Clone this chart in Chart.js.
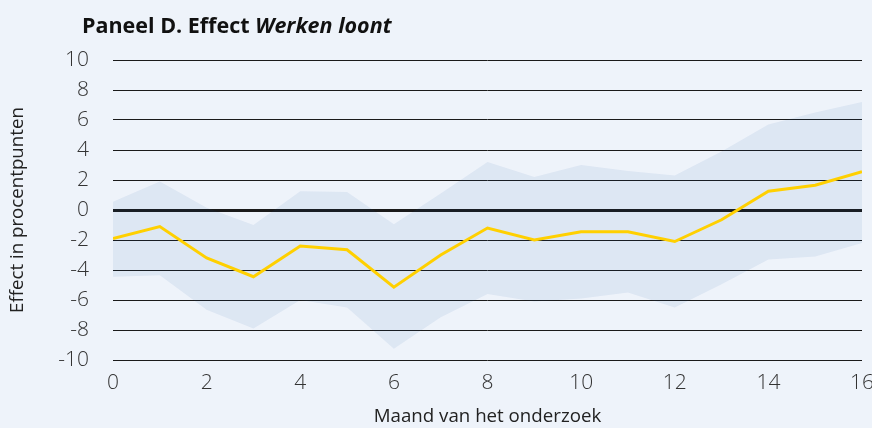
<!DOCTYPE html>
<html>
<head>
<meta charset="utf-8">
<script src="https://cdn.jsdelivr.net/npm/chart.js@4.4.1/dist/chart.umd.min.js"></script>
<style>
  html, body { margin: 0; padding: 0; background: #eef3fa; }
  #wrap { width: 872px; height: 428px; position: relative; }
</style>
</head>
<body>
<div id="wrap"><canvas id="c" width="872" height="428"></canvas></div>
<script>
const months = [0, 1, 2, 3, 4, 5, 6, 7, 8, 9, 10, 11, 12, 13, 14, 15, 16];
const effect = [-1.9, -1.1, -3.2, -4.45, -2.4, -2.65, -5.15, -3.0, -1.2, -2.0, -1.45, -1.45, -2.1, -0.65, 1.25, 1.65, 2.55];
const upper = [0.55, 1.9, 0.15, -1.0, 1.25, 1.2, -0.95, 1.1, 3.2, 2.2, 3.0, 2.6, 2.3, 3.9, 5.7, 6.5, 7.2];
const lower = [-4.45, -4.35, -6.65, -7.9, -6.0, -6.5, -9.25, -7.15, -5.6, -6.1, -5.9, -5.5, -6.5, -4.95, -3.3, -3.1, -2.2];
const titleMain = 'Paneel D. Effect ';
const titleItalic = 'Werken loont';
const xTitle = 'Maand van het onderzoek';
const yTitle = 'Effect in procentpunten';

const toPts = arr => months.map((m, i) => ({ x: m, y: arr[i] }));

const bgPlugin = {
  id: 'bg',
  beforeDraw(chart) {
    const ctx = chart.ctx;
    ctx.save();
    ctx.fillStyle = '#eef3fa';
    ctx.fillRect(0, 0, chart.width, chart.height);
    ctx.restore();
  }
};
const titlePlugin = {
  id: 'mixedTitle',
  afterDraw(chart) {
    const ctx = chart.ctx;
    ctx.save();
    ctx.fillStyle = '#111';
    ctx.textBaseline = 'alphabetic';
    ctx.font = 'bold 21.5px "Open Sans"';
    const x0 = 82, y0 = 33;
    ctx.fillText(titleMain, x0, y0);
    const w = ctx.measureText(titleMain).width;
    ctx.font = 'italic bold 21.5px "Open Sans"';
    ctx.fillText(titleItalic, x0 + w, y0);
    ctx.restore();
  }
};

new Chart(document.getElementById('c'), {
  type: 'line',
  data: {
    datasets: [
      {
        label: 'upper',
        data: toPts(upper),
        borderWidth: 0,
        pointRadius: 0,
        backgroundColor: 'rgba(25,93,162,0.08)',
        fill: '+1',
        tension: 0,
        order: 2
      },
      {
        label: 'lower',
        data: toPts(lower),
        borderWidth: 0,
        pointRadius: 0,
        fill: false,
        tension: 0,
        order: 2
      },
      {
        label: 'effect',
        data: toPts(effect),
        borderColor: '#ffd000',
        borderWidth: 3,
        pointRadius: 0,
        fill: false,
        tension: 0,
        order: 1
      }
    ]
  },
  options: {
    responsive: false,
    animation: false,
    layout: { padding: { top: 60, right: 10, left: 0, bottom: 0 } },
    plugins: { legend: { display: false }, tooltip: { enabled: false }, title: { display: false } },
    scales: {
      x: {
        type: 'linear',
        min: 0, max: 16,
        grid: { display: false, drawTicks: false },
        border: { display: false },
        ticks: {
          stepSize: 2,
          padding: 10,
          color: '#333',
          font: { family: '"Open Sans"', size: 21, weight: 300 }
        },
        title: {
          display: true,
          text: xTitle,
          color: '#222',
          font: { family: '"Open Sans"', size: 18.7 },
          padding: { top: 0, bottom: 0 }
        },
        afterFit(s) { s.height = 68; s.paddingLeft = 0; s.paddingRight = 0; }
      },
      y: {
        min: -10, max: 10,
        grid: {
          drawTicks: false,
          color: '#1a1a1a',
          lineWidth: c => (c.tick && c.tick.value === 0 ? 3 : 1)
        },
        border: { display: false },
        ticks: {
          stepSize: 2,
          padding: 24,
          color: '#333',
          font: { family: '"Open Sans"', size: 21, weight: 300 }
        },
        title: {
          display: true,
          text: yTitle,
          color: '#222',
          font: { family: '"Open Sans"', size: 18.7 },
          padding: { top: 6, bottom: 0 }
        },
        afterFit(s) { s.width = 113; s.paddingTop = 0; s.paddingBottom = 0; }
      }
    }
  },
  plugins: [bgPlugin, titlePlugin]
});
</script>
</body>
</html>
